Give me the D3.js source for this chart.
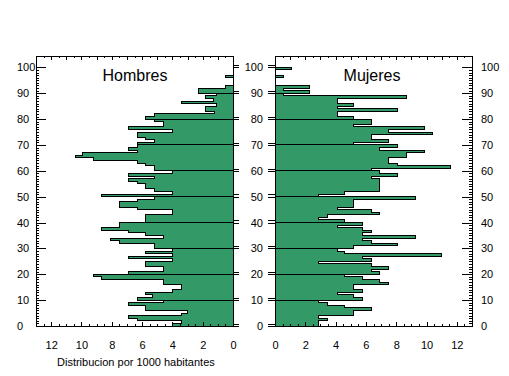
<!DOCTYPE html>
<html>
<head>
<script src="https://d3js.org/d3.v7.min.js"></script>
<style>
    body { margin: 0; background: #ffffff; }
    svg text { font-family: "Liberation Sans", Arial, sans-serif; fill: #000; }
</style>
</head>
<body>
<svg id="chart" width="509" height="376"></svg>
<script>
    // edades 0..100, valores por 1000 habitantes
    const edades = d3.range(0, 101);
    const hombres = [
        4.0, 3.4, 6.3, 6.9, 3.4, 3.0, 5.8, 5.8, 6.9, 4.6,
        6.3, 5.3, 5.8, 4.0, 3.4, 3.4, 4.6, 4.6, 8.7, 9.2,
        6.9, 4.6, 4.6, 5.8, 5.8, 4.0, 6.9, 4.0, 5.8, 4.0,
        5.2, 5.2, 7.5, 8.1, 4.6, 5.8, 6.9, 8.7, 7.5, 7.5,
        5.8, 5.8, 5.8, 4.0, 4.0, 6.3, 7.5, 7.5, 6.3, 5.2,
        8.7, 4.0, 5.2, 5.8, 5.8, 6.3, 6.9, 5.2, 6.9, 4.0,
        5.2, 5.2, 5.8, 6.3, 9.2, 10.4, 9.9, 6.3, 6.9, 6.3,
        6.3, 5.2, 5.8, 6.3, 6.3, 4.0, 6.9, 4.6, 4.6, 5.2,
        5.8, 5.2, 1.2, 1.8, 1.8, 1.1, 3.4, 1.3, 1.8, 1.1,
        2.3, 2.3, 0.5, 0, 0, 0, 0.5, 0, 0, 0,
        0
    ];
    const mujeres = [
        2.9, 2.9, 3.45, 2.9, 5.2, 5.2, 6.4, 4.6, 3.45, 2.9,
        5.8, 5.2, 4.1, 5.8, 5.2, 5.2, 7.5, 6.9, 5.8, 4.6,
        6.9, 6.4, 7.5, 6.4, 2.9, 6.4, 5.8, 11.0, 4.6, 4.1,
        5.2, 8.1, 6.4, 5.8, 9.3, 5.8, 6.4, 5.8, 4.1, 5.8,
        4.6, 2.9, 3.45, 6.9, 6.4, 4.1, 5.2, 5.2, 5.2, 9.3,
        2.9, 4.6, 6.9, 6.9, 6.9, 6.9, 6.9, 6.4, 8.1, 6.9,
        6.4, 11.6, 8.1, 7.5, 7.5, 8.7, 8.7, 9.85, 6.9, 8.1,
        5.2, 7.5, 6.4, 6.4, 10.4, 7.5, 9.85, 5.2, 6.4, 6.4,
        5.2, 4.1, 4.1, 8.1, 4.1, 5.2, 4.1, 4.1, 8.7, 0.55,
        2.3, 0.55, 2.3, 0, 0, 0, 0.55, 0, 0, 1.1,
        0
    ];
    const ticksX = [0, 2, 4, 6, 8, 10, 12];
    const ticksY = [0, 10, 20, 30, 40, 50, 60, 70, 80, 90, 100];
    const titulos = ["Hombres", "Mujeres"];
    const tituloEje = "Distribucion por 1000 habitantes";

    const svg = d3.select("#chart");
    const yTop = 56, yBottom = 326;
    const green = "#339966";

    let y = d3.scaleLinear().domain([0, 104.4]).range([yBottom, yTop]);
    let xL = d3.scaleLinear().domain([0, 13]).range([233, 36]);
    let xR = d3.scaleLinear().domain([0, 13]).range([275, 472]);

    function fixAxis(g) {
        g.select(".domain").remove();
        g.attr("font-family", null).attr("font-size", 11);
        g.selectAll("line").attr("stroke", "#000").attr("shape-rendering", "crispEdges");
    }

    function panel(x, valores, titulo, cx) {
        let g = svg.append("g");

        // relleno
        g.selectAll("rect.bar")
            .data(edades)
            .enter().append("rect")
            .attr("class", "bar")
            .attr("x", function(d){ return Math.min(x(0), x(valores[d])); })
            .attr("width", function(d){ return Math.abs(x(valores[d]) - x(0)); })
            .attr("y", function(d){ return y(d + 1); })
            .attr("height", function(d){ return y(d) - y(d + 1); })
            .attr("fill", green)
            .attr("shape-rendering", "crispEdges");

        // contorno por decadas
        let decadas = d3.range(0, 101, 10);
        g.selectAll("path.contorno")
            .data(decadas)
            .enter().append("path")
            .attr("class", "contorno")
            .attr("d", function(lo) {
                let hi = Math.min(lo + 10, valores.length);
                let p = d3.path();
                p.moveTo(x(0), y(lo));
                for (let i = lo; i < hi; i++) {
                    p.lineTo(x(valores[i]), y(i));
                    p.lineTo(x(valores[i]), y(i + 1));
                }
                p.lineTo(x(0), y(hi));
                return p.toString();
            })
            .attr("fill", "none")
            .attr("stroke", "#000")
            .attr("stroke-width", 1)
            .attr("shape-rendering", "crispEdges");

        // marco
        g.append("rect")
            .attr("x", Math.min(x(0), x(13)))
            .attr("y", yTop)
            .attr("width", Math.abs(x(13) - x(0)))
            .attr("height", yBottom - yTop)
            .attr("fill", "none")
            .attr("stroke", "#000")
            .attr("shape-rendering", "crispEdges");

        // ejes superior e inferior
        let menores = d3.range(0, 13.01, 0.5);
        let unidades = d3.range(0, 13.01, 1);
        g.append("g").attr("transform", "translate(0," + yTop + ")")
            .call(d3.axisTop(x).tickValues(menores).tickSize(-2).tickFormat(""))
            .call(fixAxis);
        g.append("g").attr("transform", "translate(0," + yTop + ")")
            .call(d3.axisTop(x).tickValues(unidades).tickSize(-4).tickFormat(""))
            .call(fixAxis);
        g.append("g").attr("transform", "translate(0," + yBottom + ")")
            .call(d3.axisBottom(x).tickValues(menores).tickSize(-2).tickFormat(""))
            .call(fixAxis);
        g.append("g").attr("transform", "translate(0," + yBottom + ")")
            .call(d3.axisBottom(x).tickValues(ticksX).tickSize(-4).tickPadding(15))
            .call(fixAxis);

        g.append("text")
            .attr("x", cx)
            .attr("y", 81)
            .attr("text-anchor", "middle")
            .attr("font-size", 16)
            .text(titulo);
        return g;
    }

    panel(xL, hombres, titulos[0], 135);
    panel(xR, mujeres, titulos[1], 372);

    let anios = d3.range(0, 101, 1);
    let dobles = ticksY.map(function(d){ return d + 0.9; });

    // eje izquierdo del panel de hombres
    svg.append("g").attr("transform", "translate(36,0)")
        .call(d3.axisLeft(y).tickValues(anios).tickSize(-3).tickFormat(""))
        .call(fixAxis);
    svg.append("g").attr("transform", "translate(36,0)")
        .call(d3.axisLeft(y).tickValues(ticksY).tickSize(-10))
        .call(fixAxis)
        .call(function(g){ g.selectAll("text").attr("x", -19).attr("text-anchor", "start"); });

    // marcas dobles a la derecha del panel de hombres
    svg.append("g").attr("transform", "translate(233,0)")
        .call(d3.axisRight(y).tickValues(ticksY.concat(dobles)).tickSize(6).tickFormat(""))
        .call(fixAxis);

    // eje izquierdo del panel de mujeres
    svg.append("g").attr("transform", "translate(275,0)")
        .call(d3.axisLeft(y).tickValues(dobles).tickSize(7).tickFormat(""))
        .call(fixAxis);
    svg.append("g").attr("transform", "translate(275,0)")
        .call(d3.axisLeft(y).tickValues(ticksY).tickSize(7).tickPadding(5))
        .call(fixAxis);

    // eje derecho del panel de mujeres
    svg.append("g").attr("transform", "translate(472,0)")
        .call(d3.axisRight(y).tickValues(anios).tickSize(-3).tickFormat(""))
        .call(fixAxis);
    svg.append("g").attr("transform", "translate(472,0)")
        .call(d3.axisRight(y).tickValues(ticksY).tickSize(-10).tickPadding(9))
        .call(fixAxis);

    svg.append("text")
        .attr("x", 57)
        .attr("y", 366)
        .attr("font-size", 11)
        .text(tituloEje);
</script>
</body>
</html>
